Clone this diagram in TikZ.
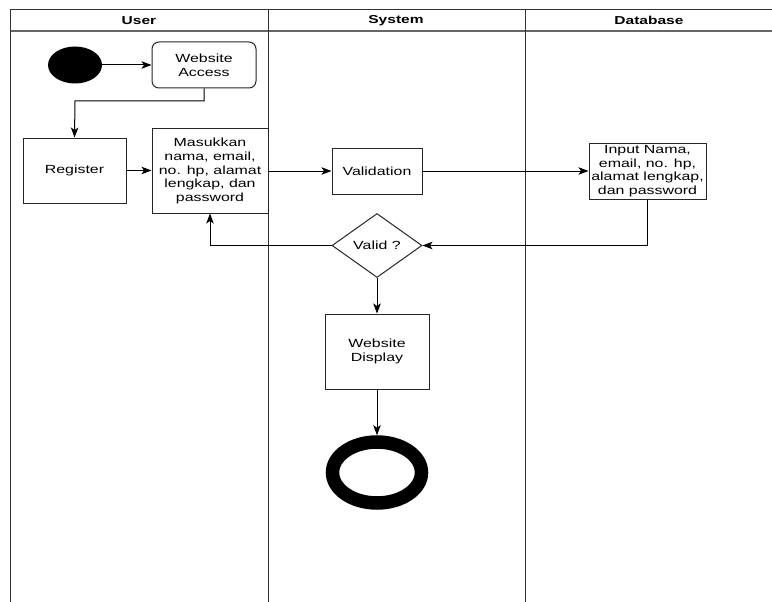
\documentclass[tikz,border=0pt]{standalone}
\usepackage{fontspec}
\setmainfont{Liberation Sans}[FakeStretch=1.35]
\usetikzlibrary{shapes.geometric,arrows.meta}
\newcommand\txtfont{\fontsize{11.8}{13.6}\selectfont}
\newcommand\hdrfont{\fontsize{11.5}{13.6}\selectfont\bfseries}
\begin{document}
\begin{tikzpicture}[x=1pt,y=-1pt,
  box/.style={draw=black!85, line width=1pt, fill=white, inner sep=0pt, align=center, font=\txtfont, text=black},
  arr/.style={draw=black, line width=1pt, -{Stealth[length=10pt,width=7.5pt,inset=2.5pt]}},
  lane/.style={draw=black!80, line width=1pt},
  hdr/.style={font=\hdrfont, text=black, inner sep=0pt}]
\useasboundingbox (0,0) rectangle (772,602);
% swimlane frame
\draw[lane] (10.5,9.5) -- (772,9.5);
\draw[lane, draw=black!60, line width=1.3pt] (10.5,31) -- (772,31);
\draw[lane] (10.5,9.5) -- (10.5,602);
\draw[lane] (268,9.5) -- (268,602);
\draw[lane] (525,9.5) -- (525,602);
\node[hdr] (hU) at (139,20.5) {User};
\node[hdr] (hS) at (396,20.5) {System};
\node[hdr] (hD) at (649,20.5) {Database};
% nodes
\node[ellipse, fill=black, minimum width=54pt, minimum height=37pt, inner sep=0pt] (start) at (75,65) {};
\node[box, rounded corners=7pt, minimum width=104pt, minimum height=46pt] (acc) at (204,65) {Website\\Access};
\node[box, minimum width=103pt, minimum height=65pt] (reg) at (74.5,170.5) {Register};
\node[box, minimum width=116pt, minimum height=84pt] (mas) at (210,171) {Masukkan\\nama, email,\\no. hp, alamat\\lengkap, dan\\password};
\node[box, minimum width=90pt, minimum height=46pt] (val) at (377,171) {Validation};
\node[box, minimum width=117pt, minimum height=56pt] (inp) at (647.5,171) {Input Nama,\\email, no. hp,\\alamat lengkap,\\dan password};
\node[box, diamond, minimum width=90pt, minimum height=64pt] (dia) at (377,245.5) {Valid ?};
\node[box, minimum width=104pt, minimum height=75pt] (disp) at (377,351.5) {Website\\Display};
\node[ellipse, draw=black, line width=13.5pt, minimum width=89pt, minimum height=61pt, inner sep=0pt] (end) at (377,472.5) {};
\coordinate (k1) at (75,101);
% connectors
\draw[arr] (start) -- (acc);
\draw[arr] (acc.south) |- (k1) -- (reg.north);
\draw[arr] (reg.east) -- (mas.west |- reg.east);
\draw[arr] (mas) -- (val);
\draw[arr] (val) -- (inp);
\draw[arr] (inp.south) |- (dia.east);
\draw[arr] (dia.west) -| (mas.south);
\draw[arr] (dia.south) -- (disp.north);
\draw[arr] (disp.south) -- (end.north);
\end{tikzpicture}
\end{document}
